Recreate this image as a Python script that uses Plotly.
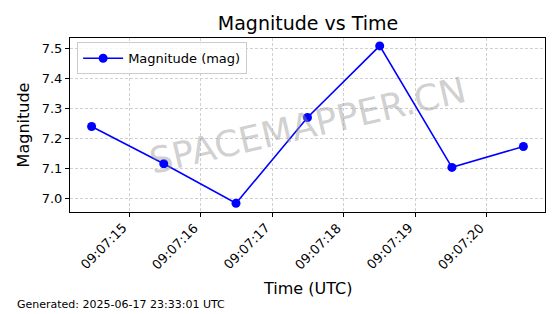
import plotly.graph_objects as go

times = ["2025-06-17 09:07:14.470", "2025-06-17 09:07:15.480", "2025-06-17 09:07:16.490",
         "2025-06-17 09:07:17.490", "2025-06-17 09:07:18.500", "2025-06-17 09:07:19.510",
         "2025-06-17 09:07:20.510"]
magnitudes = [7.24, 7.115, 6.983, 7.27, 7.51, 7.103, 7.173]
x_ticks = ["2025-06-17 09:07:15", "2025-06-17 09:07:16", "2025-06-17 09:07:17",
           "2025-06-17 09:07:18", "2025-06-17 09:07:19", "2025-06-17 09:07:20"]
x_tick_labels = ["09:07:15", "09:07:16", "09:07:17", "09:07:18", "09:07:19", "09:07:20"]
y_ticks = [7.0, 7.1, 7.2, 7.3, 7.4, 7.5]

FONT = "DejaVu Sans"
GRID = "#d0d0d0"

fig = go.Figure()
fig.add_trace(go.Scatter(
    x=times, y=magnitudes, mode="lines+markers", name="Magnitude (mag)",
    line=dict(color="#0000ff", width=1.6),
    marker=dict(color="#0000ff", size=9),
))

fig.update_layout(
    width=560, height=314,
    margin=dict(l=70, r=15, t=38, b=102),
    paper_bgcolor="white", plot_bgcolor="white",
    font=dict(family=FONT, color="black"),
    title=dict(text="Magnitude vs Time", x=0.55, xanchor="center", y=0.925, yanchor="middle",
               font=dict(size=19, family=FONT)),
    showlegend=True,
    legend=dict(x=0.015, y=0.975, xanchor="left", yanchor="top",
                bordercolor="#cccccc", borderwidth=1, bgcolor="rgba(255,255,255,0.8)",
                font=dict(size=13, family=FONT), itemwidth=40),
)

fig.update_xaxes(
    type="date",
    range=["2025-06-17 09:07:14.168", "2025-06-17 09:07:20.812"],
    tickvals=x_ticks, showticklabels=False,
    ticks="outside", ticklen=4, tickcolor="black",
    showline=True, linecolor="black", linewidth=1, mirror=True,
    showgrid=True, gridcolor=GRID, griddash="3px,2px", gridwidth=0.8,
    zeroline=False,
)
fig.update_yaxes(
    range=[6.9535, 7.5365],
    tickvals=y_ticks, tickformat=".1f",
    tickfont=dict(size=13, family=FONT),
    ticks="outside", ticklen=4, tickcolor="black",
    showline=True, linecolor="black", linewidth=1, mirror=True,
    showgrid=True, gridcolor=GRID, griddash="3px,2px", gridwidth=0.8,
    zeroline=False,
    title=dict(text="Magnitude", font=dict(size=16, family=FONT), standoff=8),
)

for tv, tl in zip(x_ticks, x_tick_labels):
    fig.add_annotation(text=tl, x=tv, xref="x", y=0, yref="paper", yshift=-9,
                       xanchor="right", yanchor="top", textangle=-45, showarrow=False,
                       borderpad=0, borderwidth=0,
                       font=dict(size=13, family=FONT, color="black"))

fig.add_annotation(text="Time (UTC)", xref="paper", yref="paper", x=0.5, y=-0.4425,
                   xanchor="center", yanchor="middle", showarrow=False,
                   font=dict(size=16, family=FONT, color="black"))
fig.add_annotation(text="SPACEMAPPER.CN", xref="paper", yref="paper", x=0.5, y=0.5,
                   showarrow=False, textangle=-13,
                   font=dict(size=36, family=FONT, color="rgba(150,150,150,0.45)"))
fig.add_annotation(text="Generated: 2025-06-17 23:33:01 UTC", xref="paper", yref="paper",
                   x=-0.1158, y=-0.534, xanchor="left", yanchor="middle", showarrow=False,
                   font=dict(size=11, family=FONT, color="black"))

fig.write_html("out.html")
